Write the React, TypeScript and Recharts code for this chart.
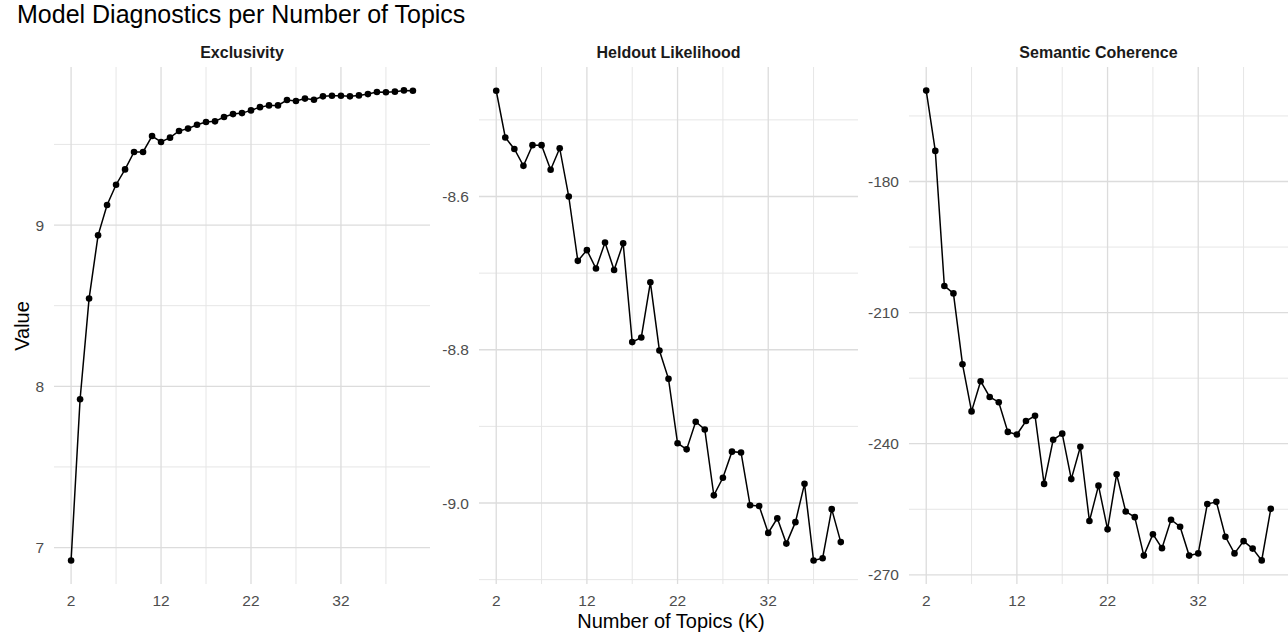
import { LineChart, Line, XAxis, YAxis, CartesianGrid } from "recharts";

// number of topics K
const topics = [2, 3, 4, 5, 6, 7, 8, 9, 10, 11, 12, 13, 14, 15, 16, 17, 18, 19, 20, 21, 22, 23, 24, 25, 26, 27, 28, 29, 30, 31, 32, 33, 34, 35, 36, 37, 38, 39, 40];

const exclusivity = [6.92, 7.92, 8.544, 8.936, 9.124, 9.25, 9.345, 9.453, 9.453, 9.552, 9.515, 9.542, 9.583, 9.598, 9.622, 9.639, 9.643, 9.67, 9.688, 9.694, 9.711, 9.731, 9.742, 9.742, 9.775, 9.769, 9.784, 9.777, 9.798, 9.802, 9.802, 9.798, 9.804, 9.812, 9.825, 9.823, 9.827, 9.835, 9.833];

const heldout = [-8.462, -8.523, -8.538, -8.56, -8.533, -8.533, -8.565, -8.537, -8.6, -8.684, -8.67, -8.694, -8.66, -8.696, -8.661, -8.79, -8.784, -8.712, -8.801, -8.838, -8.922, -8.93, -8.894, -8.904, -8.99, -8.967, -8.933, -8.934, -9.003, -9.004, -9.039, -9.02, -9.053, -9.025, -8.975, -9.075, -9.072, -9.008, -9.051];

const coherence = [-159.2, -173.0, -203.9, -205.6, -221.8, -232.6, -225.7, -229.3, -230.5, -237.3, -237.9, -234.8, -233.6, -249.2, -239.1, -237.7, -248.1, -240.7, -257.7, -249.6, -259.6, -247.0, -255.5, -256.8, -265.6, -260.7, -263.9, -257.4, -259.0, -265.6, -265.1, -253.8, -253.3, -261.3, -265.1, -262.3, -264.0, -266.7, -254.9];

const xTicks = [2, 12, 22, 32];
const xMinor = [7, 17, 27, 37];

const exclTicks = [7, 8, 9];
const exclMinor = [7.5, 8.5, 9.5];
const heldTicks = [-9.0, -8.8, -8.6];
const heldMinor = [-9.1, -8.9, -8.7, -8.5];
const cohTicks = [-270, -240, -210, -180];
const cohMinor = [-255, -225, -195, -165];

const FONT = "'Liberation Sans', Arial, sans-serif";
const PLOT_TOP = 67;
const PLOT_BOTTOM = 584;
const Y_W = 50;
const X_H = 30;

interface PanelProps {
  title: string;
  values: number[];
  domain: [number, number];
  ticks: number[];
  minor: number[];
  plotLeft: number;
  plotRight: number;
  fmt?: (v: number) => string;
}

const Panel = ({ title, values, domain, ticks, minor, plotLeft, plotRight, fmt }: PanelProps) => {
  const data = topics.map((k, i) => ({ k, v: values[i] }));
  const rightPad = plotRight >= 1288 ? 0 : 10;
  const width = Y_W + (plotRight - plotLeft) + rightPad;
  return (
    <>
      <div
        style={{
          position: "absolute",
          left: plotLeft,
          width: plotRight - plotLeft,
          top: 44,
          textAlign: "center",
          fontWeight: "bold",
          fontSize: 16,
          color: "#1a1a1a",
        }}
      >
        {title}
      </div>
      <div style={{ position: "absolute", left: plotLeft - Y_W, top: 0 }}>
        <LineChart
          width={width}
          height={638}
          data={data}
          margin={{ top: PLOT_TOP, right: rightPad, bottom: 638 - PLOT_BOTTOM - X_H, left: 0 }}
        >
          <CartesianGrid stroke="#e6e6e6" strokeWidth={1} verticalValues={xMinor} horizontalValues={minor} />
          <CartesianGrid stroke="#dcdcdc" strokeWidth={1.3} verticalValues={xTicks} horizontalValues={ticks} />
          <XAxis
            dataKey="k"
            type="number"
            domain={[0.1, 41.9]}
            ticks={xTicks}
            height={X_H}
            axisLine={false}
            tickLine={false}
            tickSize={0}
            tickMargin={11}
            interval={0}
            tick={{ fill: "#4d4d4d", fontSize: 15.5, fontFamily: FONT }}
          />
          <YAxis
            type="number"
            domain={domain}
            allowDataOverflow
            ticks={ticks}
            width={Y_W}
            axisLine={false}
            tickLine={false}
            tickSize={0}
            tickMargin={10}
            interval={0}
            tickFormatter={fmt}
            tick={{ fill: "#4d4d4d", fontSize: 15.5, fontFamily: FONT }}
          />
          <Line
            dataKey="v"
            stroke="#000000"
            strokeWidth={1.5}
            dot={{ r: 3.3, fill: "#000000", stroke: "#000000", strokeWidth: 0 }}
            activeDot={false}
            isAnimationActive={false}
          />
        </LineChart>
      </div>
    </>
  );
};

export default function App() {
  return (
    <div
      style={{
        position: "absolute",
        left: 0,
        top: 0,
        width: 1288,
        height: 638,
        background: "#ffffff",
        fontFamily: FONT,
        overflow: "hidden",
      }}
    >
      <div style={{ position: "absolute", left: 17, top: 0, fontSize: 25, color: "#000000", whiteSpace: "nowrap" }}>
        Model Diagnostics per Number of Topics
      </div>
      <Panel title="Exclusivity" values={exclusivity} domain={[6.774, 9.98]} ticks={exclTicks} minor={exclMinor} plotLeft={54} plotRight={430} />
      <Panel
        title="Heldout Likelihood"
        values={heldout}
        domain={[-9.1057, -8.431]}
        ticks={heldTicks}
        minor={heldMinor}
        plotLeft={479}
        plotRight={858}
        fmt={(v) => v.toFixed(1)}
      />
      <Panel title="Semantic Coherence" values={coherence} domain={[-272.1, -153.8]} ticks={cohTicks} minor={cohMinor} plotLeft={909} plotRight={1288} />
      <div
        style={{
          position: "absolute",
          left: 22,
          top: 326,
          transform: "translate(-50%, -50%) rotate(-90deg)",
          fontSize: 20,
          color: "#000000",
          whiteSpace: "nowrap",
        }}
      >
        Value
      </div>
      <div
        style={{
          position: "absolute",
          left: 0,
          width: 1342,
          top: 610,
          textAlign: "center",
          fontSize: 20,
          color: "#000000",
        }}
      >
        Number of Topics (K)
      </div>
    </div>
  );
}
